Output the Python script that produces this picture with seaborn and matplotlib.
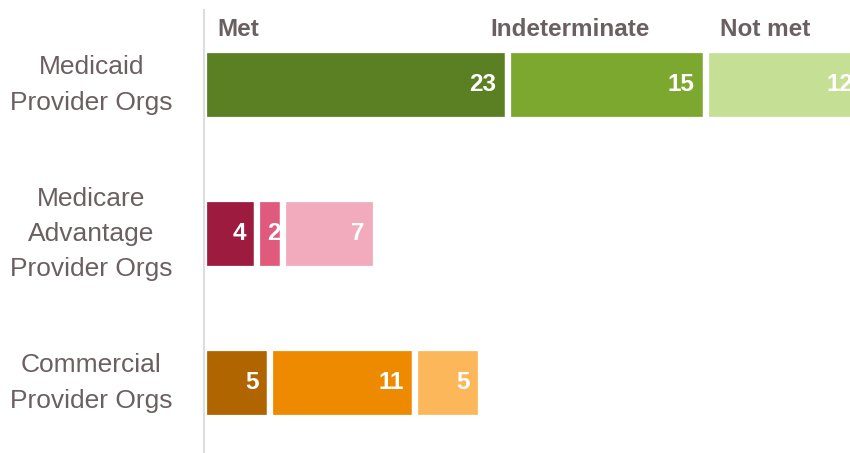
import seaborn as sns
import matplotlib.pyplot as plt
import pandas as pd

categories = ['Medicaid\nProvider Orgs', 'Medicare\nAdvantage\nProvider Orgs', 'Commercial\nProvider Orgs']
statuses = ['Met', 'Indeterminate', 'Not met']
met = [23, 4, 5]
indeterminate = [15, 2, 11]
not_met = [12, 7, 5]

colors = [
    ['#5b7f23', '#7da830', '#c5df95'],
    ['#9d1b3f', '#e05a7d', '#f2abbd'],
    ['#b06500', '#ed8a00', '#fdb75b'],
]
text_gray = '#6b6061'

df = pd.DataFrame({'Category': categories, 'Met': met,
                   'Indeterminate': indeterminate, 'Not met': not_met})

sns.set_style('white')
plt.rcParams['font.family'] = ['Liberation Sans', 'DejaVu Sans']

fig = plt.figure(figsize=(8.5, 4.53), dpi=100)
ax = fig.add_axes([204 / 850, 0, 1 - 204 / 850, 443 / 453])

# stacked segments, white edges give the gaps between them
left = [0, 0, 0]
for j, status in enumerate(statuses):
    vals = df[status].tolist()
    bars = ax.barh(range(len(categories)), vals, left=left, height=0.47,
                   color=[colors[i][j] for i in range(len(categories))],
                   edgecolor='white', linewidth=4.5)
    for i, (b, v) in enumerate(zip(bars, vals)):
        pad = -1.5 if v <= 2 else -8
        ax.annotate(str(v), (left[i] + v, i), xytext=(pad, 0),
                    textcoords='offset points', ha='right', va='center',
                    color='white', fontsize=17.5, fontweight='bold',
                    annotation_clip=False)
    left = [l + v for l, v in zip(left, vals)]

ax.set_xlim(0, (850 - 204) / 13.2)
ax.set_ylim(2.47, -0.57 + 10 / 149)
ax.set_xticks([])
ax.set_yticks(range(len(categories)))
ax.set_yticklabels(categories, fontsize=19, color=text_gray, ha='center',
                   va='center', linespacing=1.6)
ax.tick_params(axis='y', length=0, pad=81)
for s in ['top', 'right', 'bottom']:
    ax.spines[s].set_visible(False)
ax.spines['left'].set_color('#dddddd')
ax.spines['left'].set_linewidth(1.5)

# column headers above the first bar
ax.text(1.0, -0.37, 'Met', ha='left', va='center', fontsize=17.5,
        fontweight='bold', color=text_gray)
ax.text(27.7, -0.37, 'Indeterminate', ha='center', va='center', fontsize=17.5,
        fontweight='bold', color=text_gray)
ax.text(39.1, -0.37, 'Not met', ha='left', va='center', fontsize=17.5,
        fontweight='bold', color=text_gray)

plt.savefig('out.png', dpi=100)
plt.close()
